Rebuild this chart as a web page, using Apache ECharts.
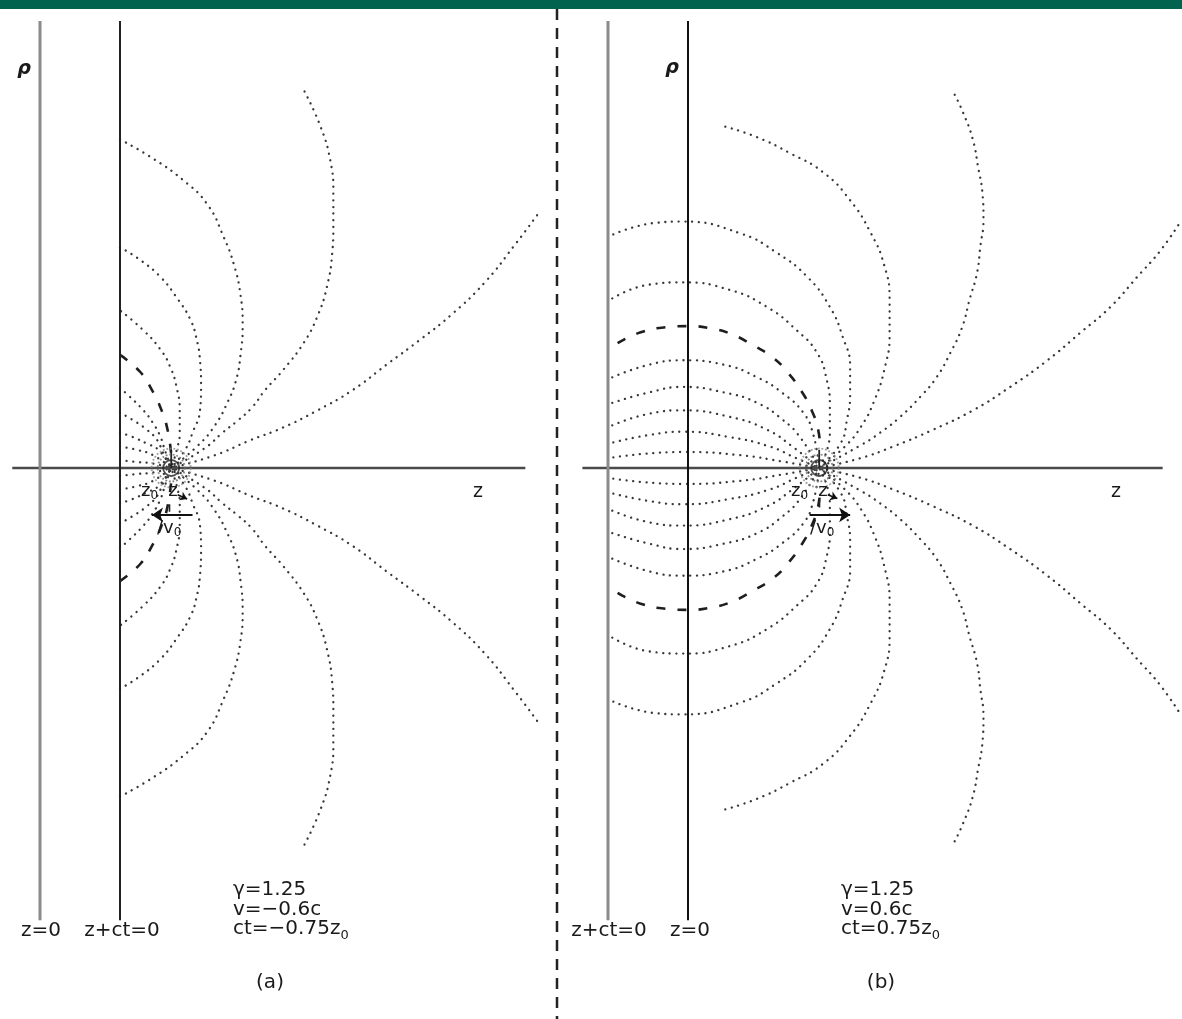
<!DOCTYPE html>
<html>
<head>
<meta charset="utf-8">
<title>Field lines of a moving charge</title>
<script src="https://cdn.jsdelivr.net/npm/echarts/dist/echarts.min.js"></script>
<style>
    html, body { margin: 0; padding: 0; background: #fff; }
    #chart { width: 1182px; height: 1019px; }
</style>
</head>
<body>
<div id="chart"></div>
<script>
// z and rho are in units of z0 (upper half only, lower half is the mirror)

// panel (a): v = -0.6c, the light front z+ct=0 sits at z = 0.75
var aLine1 = [[4.66,2.37],[4.45,2.09],[4.17,1.74],[3.86,1.44],[3.56,1.20],[3.25,0.97],[2.93,0.73],[2.60,0.54],[2.28,0.38],[1.97,0.26],[1.64,0.12],[1.23,0]];
var aLine2 = [[2.48,3.53],[2.63,3.20],[2.72,2.89],[2.75,2.58],[2.75,2.26],[2.74,2.02],[2.69,1.70],[2.60,1.42],[2.47,1.17],[2.28,0.92],[2.11,0.73],[1.99,0.57],[1.86,0.45],[1.71,0.33],[1.55,0.19],[1.23,0]];
var aLine3 = [[0.75,3.08],[1.03,2.92],[1.34,2.70],[1.57,2.47],[1.72,2.17],[1.82,1.90],[1.88,1.62],[1.90,1.34],[1.88,1.06],[1.84,0.83],[1.76,0.62],[1.64,0.40],[1.48,0.21],[1.23,0]];
var aLine4 = [[0.75,2.07],[0.94,1.95],[1.13,1.79],[1.28,1.60],[1.41,1.39],[1.47,1.20],[1.50,1.01],[1.51,0.76],[1.50,0.54],[1.43,0.33],[1.36,0.17],[1.23,0]];
var aLine5 = [[0.76,1.47],[0.97,1.29],[1.13,1.11],[1.22,0.95],[1.28,0.76],[1.31,0.54],[1.31,0.33],[1.29,0.20],[1.23,0]];
var aLine6 = [[0.75,0.75],[0.84,0.67],[0.97,0.54],[1.06,0.42],[1.13,0.29],[1.17,0.17],[1.23,0]];
var aLine7 = [[0.75,0.52],[0.87,0.45],[1.00,0.36],[1.10,0.26],[1.15,0.15],[1.23,0]];
var aLine8 = [[0.75,0.33],[0.87,0.29],[1.00,0.23],[1.11,0.17],[1.23,0]];
var aLine9 = [[0.75,0.20],[0.91,0.17],[1.06,0.12],[1.23,0]];
var aLine10 = [[0.75,0.075],[0.91,0.056],[1.03,0.047],[1.23,0]];
var aFront = [[0.75,1.06],[0.94,0.90],[1.05,0.73],[1.14,0.54],[1.20,0.34],[1.23,0.12]];

// panel (b): v = 0.6c, the light front sits at z = -0.75
var bLine1 = [[4.63,2.33],[4.43,2.04],[4.21,1.79],[3.96,1.51],[3.68,1.27],[3.37,1.01],[3.02,0.76],[2.67,0.54],[2.30,0.36],[1.92,0.20],[1.61,0.09],[1.23,0]];
var bLine2 = [[2.50,3.50],[2.58,3.33],[2.67,3.08],[2.72,2.82],[2.76,2.58],[2.77,2.33],[2.74,2.07],[2.71,1.83],[2.64,1.58],[2.57,1.32],[2.46,1.08],[2.33,0.85],[2.18,0.67],[1.99,0.48],[1.80,0.33],[1.63,0.22],[1.23,0]];
var bLine3 = [[0.35,3.20],[0.65,3.10],[0.96,2.95],[1.27,2.77],[1.52,2.51],[1.71,2.21],[1.84,1.90],[1.89,1.58],[1.89,1.25],[1.84,0.92],[1.75,0.64],[1.63,0.40],[1.47,0.20],[1.23,0]];
var bLine4 = [[-0.70,2.19],[-0.29,2.30],[-0.05,2.31],[0.49,2.20],[0.83,2.02],[1.12,1.79],[1.33,1.51],[1.45,1.23],[1.52,0.95],[1.52,0.70],[1.49,0.45],[1.43,0.23],[1.23,0]];
var bLine5 = [[-0.71,1.59],[-0.36,1.72],[-0.05,1.74],[0.39,1.67],[0.74,1.51],[1.02,1.29],[1.21,1.08],[1.30,0.83],[1.33,0.57],[1.33,0.33],[1.23,0]];
var bLine6 = [[-0.71,0.85],[-0.36,0.97],[-0.05,1.01],[0.33,0.97],[0.65,0.85],[0.89,0.70],[1.08,0.52],[1.17,0.33],[1.23,0]];
var bLine7 = [[-0.71,0.61],[-0.36,0.71],[-0.05,0.76],[0.33,0.71],[0.65,0.61],[0.89,0.45],[1.05,0.29],[1.23,0]];
var bLine8 = [[-0.71,0.40],[-0.36,0.51],[-0.05,0.54],[0.39,0.48],[0.74,0.36],[0.98,0.20],[1.23,0]];
var bLine9 = [[-0.70,0.24],[-0.36,0.31],[-0.05,0.34],[0.39,0.29],[0.77,0.20],[1.02,0.09],[1.23,0]];
var bLine10 = [[-0.70,0.10],[-0.05,0.15],[0.49,0.12],[0.89,0.06],[1.23,0]];
var bFront = [[-0.66,1.17],[-0.45,1.27],[-0.20,1.32],[0,1.33],[0.21,1.31],[0.42,1.25],[0.61,1.15],[0.79,1.04],[0.94,0.89],[1.07,0.71],[1.16,0.54],[1.22,0.36],[1.24,0.17]];

// axes, z=0 and z+ct=0 lines
var aRhoAxis = [[-0.26,0],[4.55,0]];
var aZeroLine = [[0,4.19],[0,-4.24]];
var aWallLine = [[0.75,4.19],[0.75,-4.24]];
var bRhoAxis = [[-0.99,0],[4.45,0]];
var bZeroLine = [[0,4.19],[0,-4.24]];
var bWallLine = [[-0.75,4.19],[-0.75,-4.24]];

var aCharge = [1.23, 0];
var bCharge = [1.23, 0];
var aVelocity = [[1.43,-0.44],[1.05,-0.44]];
var bVelocity = [[1.14,-0.44],[1.52,-0.44]];

var aParams = ['γ=1.25', 'v=−0.6c', 'ct=−0.75z'];
var bParams = ['γ=1.25', 'v=0.6c', 'ct=0.75z'];

var U = 320 / 3;       // pixels per z0
var RHO = 4.3;
var FONT = '"DejaVu Sans", sans-serif';

function gridAt(ox, zmin, zmax) {
    return { left: ox + zmin * U, top: 468 - RHO * U, width: (zmax - zmin) * U, height: 2 * RHO * U };
}

var dotted = { color: '#383838', width: 2.3, type: [0.1, 6.6], cap: 'round' };
var dashed = { color: '#1e1e1e', width: 2.6, type: [9, 12] };

function mirror(d) {
    return d.map(function (p) { return [p[0], -p[1]]; });
}
function curve(d, p, style) {
    return { type: 'line', xAxisIndex: p, yAxisIndex: p, data: d, smooth: 0.5, symbol: 'none',
             clip: false, silent: true, lineStyle: style, z: 2 };
}
function straight(d, p, color, width) {
    return { type: 'line', xAxisIndex: p, yAxisIndex: p, data: d, symbol: 'none', clip: false,
             silent: true, lineStyle: { color: color, width: width }, z: 3 };
}
function ring(c, p, size, border, type, width) {
    return { type: 'scatter', xAxisIndex: p, yAxisIndex: p, data: [c], symbol: 'circle', symbolSize: size,
             silent: true, z: 4,
             itemStyle: { color: 'rgba(0,0,0,0)', borderColor: border, borderWidth: width, borderType: type } };
}
function arrow(coords, p, size, width) {
    return { type: 'lines', coordinateSystem: 'cartesian2d', xAxisIndex: p, yAxisIndex: p, silent: true, z: 5,
             symbol: ['none', 'arrow'], symbolSize: size,
             lineStyle: { color: '#111', width: width, opacity: 1, curveness: 0 },
             data: [{ coords: coords }] };
}

var series = [];
[[aLine1,aLine2,aLine3,aLine4,aLine5,aLine6,aLine7,aLine8,aLine9,aLine10],
 [bLine1,bLine2,bLine3,bLine4,bLine5,bLine6,bLine7,bLine8,bLine9,bLine10]].forEach(function (lines, p) {
    lines.forEach(function (d) {
        series.push(curve(d, p, dotted));
        series.push(curve(mirror(d), p, dotted));
    });
});
[aFront, bFront].forEach(function (d, p) {
    series.push(curve(d, p, dashed));
    series.push(curve(mirror(d), p, dashed));
});

series.push(straight(aRhoAxis, 0, '#4a4a4a', 2.5));
series.push(straight(aZeroLine, 0, '#8a8a8a', 3));
series.push(straight(aWallLine, 0, '#222', 2));
series.push(straight(bRhoAxis, 1, '#4a4a4a', 2.5));
series.push(straight(bWallLine, 1, '#8a8a8a', 3));
series.push(straight(bZeroLine, 1, '#111', 2));

[aCharge, bCharge].forEach(function (c, p) {
    series.push(ring(c, p, 16, '#222', 'solid', 1.8));
    series.push(ring(c, p, 27, '#666', 'dotted', 1.8));
    series.push(ring(c, p, 39, '#888', 'dotted', 1.8));
    series.push(straight([c, [c[0], 0.17]], p, '#222', 1.8));
});

series.push(arrow(aVelocity, 0, [0, 11], 2.2));
series.push(arrow(bVelocity, 1, [0, 11], 2.2));
series.push(arrow([[1.29,-0.25],[1.38,-0.29]], 0, [0, 7], 1.6));
series.push(arrow([[1.31,-0.25],[1.40,-0.285]], 1, [0, 7], 1.6));
series.push(straight([[1.214,-0.34],[1.214,-0.41]], 0, '#222', 1.6));
series.push(straight([[1.233,-0.30],[1.233,-0.37]], 1, '#222', 1.6));

function text(x, y, s, size, align, extra) {
    return { type: 'text', x: x, y: y, z: 10,
             style: { text: s, font: (extra || '') + size + 'px ' + FONT, fill: '#1a1a1a',
                      textAlign: align || 'left', align: align || 'left',
                      textVerticalAlign: 'middle', verticalAlign: 'middle' } };
}
function subText(x, top, main, sub, size, subSize, drop) {
    return { type: 'text', x: x, y: top, z: 10,
             style: { text: '{m|' + main + '}{s|' + sub + '}', fill: '#1a1a1a', align: 'left', verticalAlign: 'top',
                      rich: {
                          m: { fontFamily: 'DejaVu Sans', fontSize: size, lineHeight: size + 1, verticalAlign: 'top', fill: '#1a1a1a' },
                          s: { fontFamily: 'DejaVu Sans', fontSize: subSize, lineHeight: subSize, padding: [drop, 0, 0, 0], verticalAlign: 'top', fill: '#1a1a1a' }
                      } } };
}

var graphics = [
    { type: 'rect', shape: { x: 0, y: 0, width: 1182, height: 9 }, style: { fill: '#02644f' }, z: 10 },
    { type: 'line', shape: { x1: 557, y1: 9, x2: 557, y2: 1019 }, style: { stroke: '#222', lineWidth: 2.5, lineDash: [11, 8] }, z: 10 },
    // panel (a)
    text(24, 69, 'ρ', 19, 'center', 'italic bold '),
    text(478, 492, 'z', 19, 'center'),
    text(41, 931, 'z=0', 20, 'center'),
    text(122, 931, 'z+ct=0', 20, 'center'),
    text(233, 890, aParams[0], 20),
    text(233, 910, aParams[1], 20),
    subText(233, 919, aParams[2], '0', 20, 13, 10),
    text(270, 983, '(a)', 20, 'center'),
    subText(141, 482, 'z', '0', 18, 12, 8),
    text(173, 491, 'z', 18, 'center'),
    subText(157, 519, '/v', '0', 18, 12, 8),
    // panel (b)
    text(672, 68, 'ρ', 19, 'center', 'italic bold '),
    text(1116, 492, 'z', 19, 'center'),
    text(609, 931, 'z+ct=0', 20, 'center'),
    text(690, 931, 'z=0', 20, 'center'),
    text(841, 890, bParams[0], 20),
    text(841, 910, bParams[1], 20),
    subText(841, 919, bParams[2], '0', 20, 13, 10),
    text(881, 983, '(b)', 20, 'center'),
    subText(791, 482, 'z', '0', 18, 12, 8),
    text(823, 491, 'z', 18, 'center'),
    subText(810, 519, '/v', '0', 18, 12, 8)
];

var chart = echarts.init(document.getElementById('chart'));
chart.setOption({
    animation: false,
    backgroundColor: '#fff',
    grid: [gridAt(40, -0.375, 4.8), gridAt(688, -1.2, 4.6)],
    xAxis: [
        { gridIndex: 0, type: 'value', min: -0.375, max: 4.8, show: false },
        { gridIndex: 1, type: 'value', min: -1.2, max: 4.6, show: false }
    ],
    yAxis: [
        { gridIndex: 0, type: 'value', min: -RHO, max: RHO, show: false },
        { gridIndex: 1, type: 'value', min: -RHO, max: RHO, show: false }
    ],
    graphic: graphics,
    series: series
});
</script>
</body>
</html>
